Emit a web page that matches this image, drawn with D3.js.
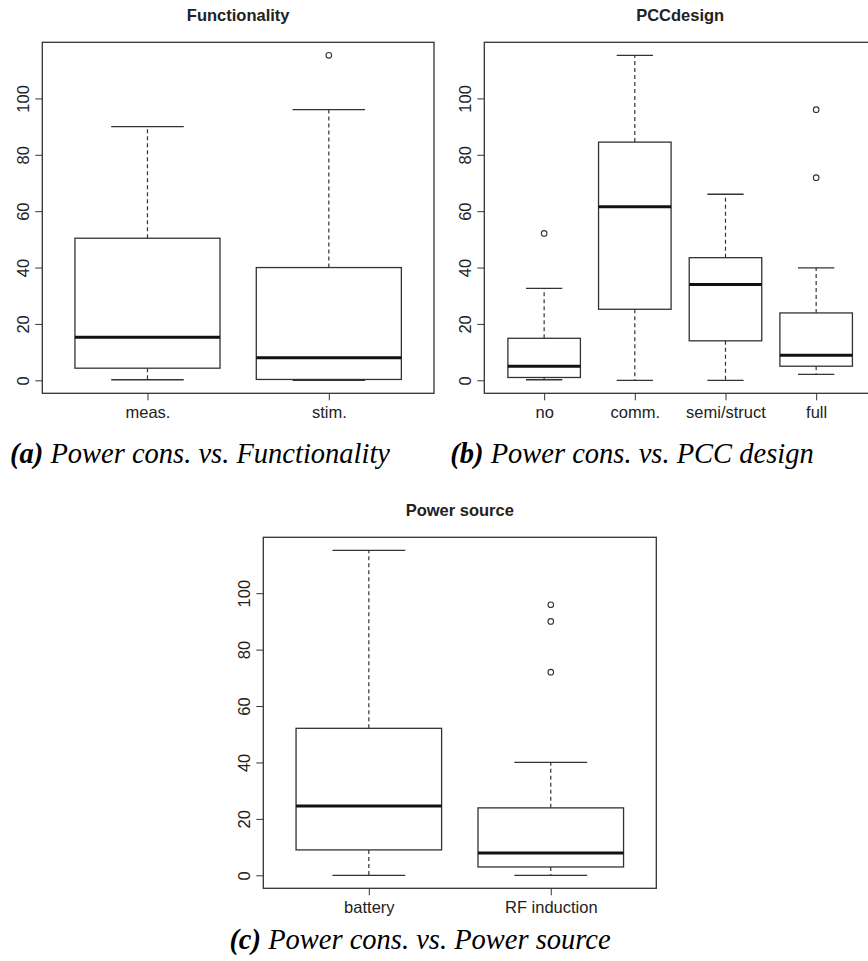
<!DOCTYPE html>
<html lang="en">
<head>
<meta charset="utf-8">
<title>Power consumption boxplots</title>
<script src="https://cdn.jsdelivr.net/npm/d3@7/dist/d3.min.js"></script>
<style>
  * { margin: 0; padding: 0; }
  body { background: #fff; width: 868px; height: 961px; overflow: hidden; }
  svg { display: block; }
  .lbl { font-family: 'Liberation Sans', Arial, sans-serif; font-size: 16.5px; fill: #222; }
  .title { font-family: 'Liberation Sans', Arial, sans-serif; font-size: 16.5px; font-weight: bold; fill: #222; }
  .caption { font-family: 'Liberation Serif', 'Times New Roman', serif; font-size: 28.5px; font-style: italic; fill: #000; }
</style>
</head>
<body>
<svg id="fig" width="868" height="961"></svg>
<script>
// [lower whisker, Q1, median, Q3, upper whisker] per category
const funcCats = ['meas.', 'stim.']
const funcStats = [[0.2, 4.3, 15.3, 50.4, 90], [0, 0.3, 8, 40, 96]]
const funcOutliers = [[], [115.3]]

const pccCats = ['no', 'comm.', 'semi/struct', 'full']
const pccStats = [[0.2, 1.0, 5, 14.9, 32.6], [0, 25.2, 61.6, 84.5, 115.3], [0, 14, 34, 43.5, 66], [2.1, 5, 8.9, 23.9, 39.9]]
const pccOutliers = [[52.1], [], [], [96, 71.9]]

const srcCats = ['battery', 'RF induction']
const srcStats = [[0, 9, 24.6, 52.1, 115.2], [0, 2.95, 7.9, 23.9, 40]]
const srcOutliers = [[], [95.9, 90, 72]]

const yTicks = [0, 20, 40, 60, 80, 100]

const svg = d3.select('#fig')
const LINE = '#333'

function boxPanel(opt) {
  const { cats, stats, outliers, title, caption, tag, frame, capX, capY } = opt
  const n = cats.length
  const hi = d3.max([...stats.flat(), ...outliers.flat()])
  const lo = 0
  const pad = 0.04 * (hi - lo)

  const x = d3.scaleLinear()
    .domain([0.5 - 0.04 * n, n + 0.5 + 0.04 * n])
    .range([frame.left, frame.right])
  const y = d3.scaleLinear()
    .domain([lo - pad, hi + pad])
    .range([frame.bottom, frame.top])

  const g = svg.append('g')
  const half = 0.4 * (x(2) - x(1))

  // y axis, labels rotated like R's default
  const ya = g.append('g')
    .attr('transform', 'translate(' + frame.left + ',0)')
    .call(d3.axisLeft(y).tickValues(yTicks).tickSize(7).tickFormat(d3.format('d')))
  ya.select('.domain').remove()
  ya.selectAll('line').attr('stroke', LINE)
  ya.selectAll('text')
    .attr('class', 'lbl')
    .attr('x', 0).attr('y', -13).attr('dy', null)
    .attr('text-anchor', 'middle')
    .attr('transform', 'rotate(-90)')

  const xa = g.append('g')
    .attr('transform', 'translate(0,' + frame.bottom + ')')
    .call(d3.axisBottom(x).tickValues(d3.range(1, n + 1)).tickSize(7).tickFormat(i => cats[i - 1]))
  xa.select('.domain').remove()
  xa.selectAll('line').attr('stroke', LINE)
  xa.selectAll('text').attr('class', 'lbl').attr('y', 25).attr('dy', null)

  const box = g.selectAll('g.box')
    .data(stats)
    .join('g')
    .attr('class', 'box')

  // whiskers
  box.append('line')
    .attr('x1', (d, i) => x(i + 1)).attr('x2', (d, i) => x(i + 1))
    .attr('y1', d => y(d[3])).attr('y2', d => y(d[4]))
    .attr('stroke', LINE).attr('stroke-width', 1.2).attr('stroke-dasharray', '4,3')
  box.append('line')
    .attr('x1', (d, i) => x(i + 1)).attr('x2', (d, i) => x(i + 1))
    .attr('y1', d => y(d[1])).attr('y2', d => y(d[0]))
    .attr('stroke', LINE).attr('stroke-width', 1.2).attr('stroke-dasharray', '4,3')
  for (const k of [0, 4]) {
    box.append('line')
      .attr('x1', (d, i) => x(i + 1) - half / 2).attr('x2', (d, i) => x(i + 1) + half / 2)
      .attr('y1', d => y(d[k])).attr('y2', d => y(d[k]))
      .attr('stroke', LINE).attr('stroke-width', 1.3)
  }

  box.append('rect')
    .attr('x', (d, i) => x(i + 1) - half)
    .attr('width', 2 * half)
    .attr('y', d => y(d[3]))
    .attr('height', d => y(d[1]) - y(d[3]))
    .attr('fill', '#fff').attr('stroke', LINE).attr('stroke-width', 1.3)

  box.append('line')
    .attr('x1', (d, i) => x(i + 1) - half).attr('x2', (d, i) => x(i + 1) + half)
    .attr('y1', d => y(d[2])).attr('y2', d => y(d[2]))
    .attr('stroke', '#111').attr('stroke-width', 3)

  const pts = outliers.flatMap((vals, i) => vals.map(v => ({ i, v })))
  g.selectAll('circle.out')
    .data(pts)
    .join('circle')
    .attr('class', 'out')
    .attr('cx', d => x(d.i + 1)).attr('cy', d => y(d.v))
    .attr('r', 2.8)
    .attr('fill', 'none').attr('stroke', LINE).attr('stroke-width', 1.1)

  g.append('rect')
    .attr('x', frame.left).attr('y', frame.top)
    .attr('width', frame.right - frame.left).attr('height', frame.bottom - frame.top)
    .attr('fill', 'none').attr('stroke', LINE).attr('stroke-width', 1.3)

  g.append('text')
    .attr('class', 'title')
    .attr('x', (frame.left + frame.right) / 2).attr('y', frame.top - 21)
    .attr('text-anchor', 'middle')
    .text(title)

  const cap = g.append('text')
    .attr('class', 'caption')
    .attr('x', capX).attr('y', capY)
    .attr('text-anchor', 'middle')
  cap.append('tspan').attr('font-weight', 'bold').text(tag)
  cap.append('tspan').text(' ' + caption)
}

boxPanel({
  cats: funcCats, stats: funcStats, outliers: funcOutliers,
  title: 'Functionality', tag: '(a)', caption: 'Power cons. vs. Functionality',
  frame: { left: 42.3, right: 434, top: 42.3, bottom: 393.3 },
  capX: 200, capY: 463
})

boxPanel({
  cats: pccCats, stats: pccStats, outliers: pccOutliers,
  title: 'PCCdesign', tag: '(b)', caption: 'Power cons. vs. PCC design',
  frame: { left: 484.3, right: 876, top: 42.3, bottom: 393.3 },
  capX: 632, capY: 463
})

boxPanel({
  cats: srcCats, stats: srcStats, outliers: srcOutliers,
  title: 'Power source', tag: '(c)', caption: 'Power cons. vs. Power source',
  frame: { left: 263.3, right: 656.3, top: 537.3, bottom: 888.3 },
  capX: 420, capY: 949
})
</script>
</body>
</html>
